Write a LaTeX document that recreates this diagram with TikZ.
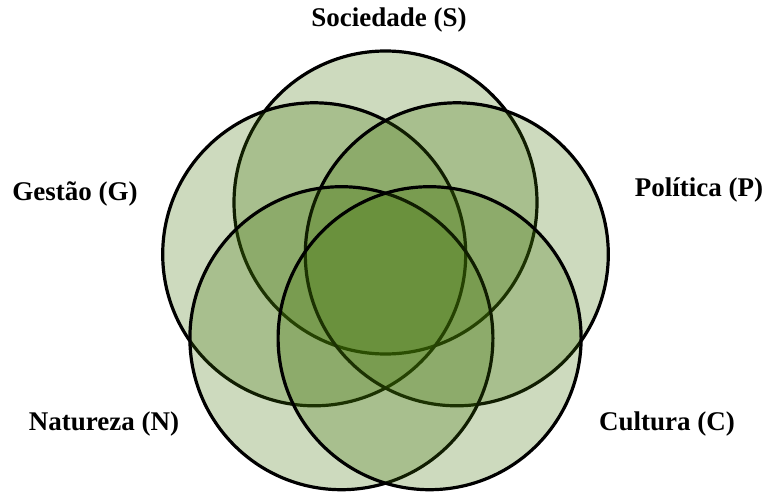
\documentclass[tikz,border=0pt]{standalone}
\usepackage{fontspec}
\setmainfont{Liberation Serif}
\usepackage{tikz}
\usetikzlibrary{positioning}

\definecolor{vennfill}{RGB}{63,113,5}

\begin{document}
\begin{tikzpicture}[x=1pt, y=1pt,
    venn/.style={circle, draw=black, line width=3.2pt, fill=vennfill, fill opacity=0.26, draw opacity=1, minimum size=303pt, inner sep=0pt},
    dimlabel/.style={font=\bfseries\fontsize{27}{32}\selectfont, text=black}]
    \useasboundingbox (0,0) rectangle (770,491);

    % Five sets on a pentagon
    \node[venn] (soc) at (385.5, 288.5) {};
    \node[venn] (ges) at (314.2, 236.7) {};
    \node[venn] (pol) at (456.8, 236.7) {};
    \node[venn] (nat) at (341.4, 152.8) {};
    \node[venn] (cul) at (429.6, 152.8) {};

    % Labels
    \node[dimlabel] (soclabel) at (389, 471) {Sociedade (S)};
    \node[dimlabel] (geslabel) at (75, 297) {Gestão (G)};
    \node[dimlabel] (pollabel) at (699, 301) {Política (P)};
    \node[dimlabel] (natlabel) at (104, 67) {Natureza (N)};
    \node[dimlabel] (cullabel) at (667, 67) {Cultura (C)};
\end{tikzpicture}
\end{document}
